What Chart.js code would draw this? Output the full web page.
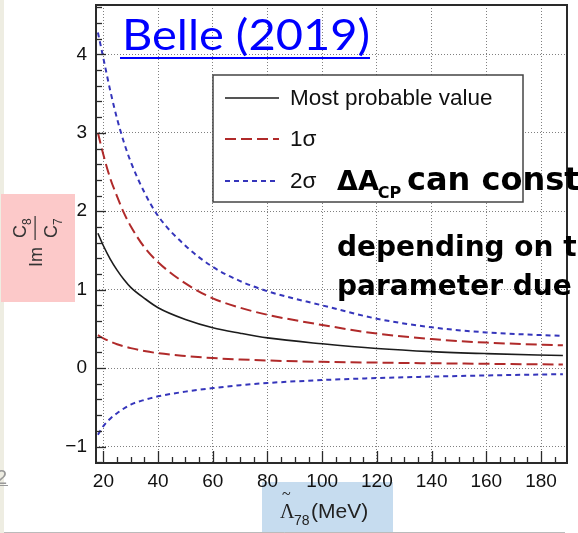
<!DOCTYPE html>
<html>
<head>
<meta charset="utf-8">
<script src="https://cdn.jsdelivr.net/npm/chart.js@4/dist/chart.umd.min.js"></script>
<style>
  html, body { margin: 0; padding: 0; background: #fff; overflow: hidden; }
  canvas { display: block; }
</style>
</head>
<body>
<canvas id="chart" width="578" height="533"></canvas>
<script>
// Lambda_78 (MeV) sample points
const lambdaVals = [18, 20, 22.5, 25, 27.5, 30, 35, 40, 50, 60, 70, 80, 100, 120, 140, 160, 188];
const mostProbable = [1.72, 1.56, 1.39, 1.25, 1.13, 1.03, 0.89, 0.77, 0.62, 0.515, 0.445, 0.385, 0.31, 0.25, 0.21, 0.185, 0.16];
const oneSigmaUp = [3.0, 2.72, 2.42, 2.19, 1.98, 1.81, 1.54, 1.35, 1.08, 0.89, 0.77, 0.68, 0.55, 0.44, 0.37, 0.325, 0.29];
const oneSigmaLow = [0.42, 0.38, 0.34, 0.305, 0.278, 0.255, 0.218, 0.19, 0.155, 0.128, 0.11, 0.097, 0.08, 0.07, 0.062, 0.055, 0.045];
const twoSigmaUp = [4.28, 3.95, 3.54, 3.18, 2.88, 2.63, 2.24, 1.94, 1.56, 1.29, 1.11, 0.98, 0.80, 0.63, 0.52, 0.455, 0.41];
const twoSigmaLow = [-0.85, -0.74, -0.645, -0.575, -0.515, -0.465, -0.405, -0.36, -0.30, -0.255, -0.218, -0.19, -0.152, -0.127, -0.108, -0.094, -0.077];

const xTicks = [20, 40, 60, 80, 100, 120, 140, 160, 180];
const yTicks = [-1, 0, 1, 2, 3, 4];
const legendLabels = ["Most probable value", "1\u03c3", "2\u03c3"];

const BLACK = "#1c1c1c";
const RED = "#b02a2a";
const BLUE = "#3535bb";
const RED_DASH = [11, 5];
const BLUE_DASH = [5, 4];

function pts(ys) {
  return lambdaVals.map((x, i) => ({ x: x, y: ys[i] }));
}

function line(ctx, x1, y1, x2, y2) {
  ctx.beginPath();
  ctx.moveTo(x1, y1);
  ctx.lineTo(x2, y2);
  ctx.stroke();
}

// draw text stretched/squeezed to a given width
function fitText(ctx, text, x, y, width) {
  const w = ctx.measureText(text).width;
  ctx.save();
  ctx.translate(x, y);
  ctx.scale(width / w, 1);
  ctx.fillText(text, 0, 0);
  ctx.restore();
}

const rootStyle = {
  id: "rootStyle",
  beforeDraw(chart) {
    const ctx = chart.ctx;
    ctx.save();
    ctx.fillStyle = "#fff";
    ctx.fillRect(0, 0, chart.width, chart.height);
    ctx.fillStyle = "#eeede2";
    ctx.fillRect(0, 0, 4, chart.height);
    // highlight boxes behind axis titles
    ctx.fillStyle = "#fcc9c9";
    ctx.fillRect(1, 194, 74, 108);
    ctx.fillStyle = "#c6dcef";
    ctx.fillRect(262, 482, 131, 51);
    ctx.strokeStyle = "#bbb";
    ctx.lineWidth = 1;
    line(ctx, 4, 532.5, 565, 532.5);
    ctx.restore();
  },
  afterDatasetsDraw(chart) {
    const ctx = chart.ctx;
    const xs = chart.scales.x;
    const ys = chart.scales.y;
    const { left, right, top, bottom } = chart.chartArea;
    ctx.save();

    // frame
    ctx.strokeStyle = "#2a2a2a";
    ctx.lineWidth = 2;
    ctx.strokeRect(left, top, right - left, bottom - top);

    // ROOT style inward ticks
    ctx.lineWidth = 1.3;
    for (let v = 20; v <= xs.max; v += 5) {
      const px = Math.round(xs.getPixelForValue(v)) + 0.5;
      line(ctx, px, bottom, px, bottom - (v % 20 === 0 ? 12 : 6));
    }
    for (let k = Math.ceil(ys.min * 5); k <= ys.max * 5; k++) {
      const py = Math.round(ys.getPixelForValue(k / 5)) + 0.5;
      line(ctx, left, py, left + (k % 5 === 0 ? 10 : 6), py);
    }

    // legend box
    const lx = 213, ly = 75, lw = 310, lh = 127;
    ctx.fillStyle = "#fff";
    ctx.fillRect(lx, ly, lw, lh);
    ctx.strokeStyle = "#444";
    ctx.lineWidth = 1.5;
    ctx.strokeRect(lx, ly, lw, lh);
    const rows = [98, 139, 181];
    const styles = [[BLACK, [], 1.6], [RED, RED_DASH, 2], [BLUE, BLUE_DASH, 2]];
    ctx.font = "22.5px 'Liberation Sans', Arial, sans-serif";
    ctx.textBaseline = "middle";
    ctx.textAlign = "left";
    rows.forEach((ry, i) => {
      ctx.strokeStyle = styles[i][0];
      ctx.setLineDash(styles[i][1]);
      ctx.lineWidth = styles[i][2];
      line(ctx, 225, ry, 279, ry);
      ctx.setLineDash([]);
      ctx.fillStyle = "#111";
      ctx.fillText(legendLabels[i], 290, ry + 1);
    });

    // title
    ctx.fillStyle = "#0000ff";
    ctx.font = "42px Lato, 'Open Sans', sans-serif";
    ctx.textBaseline = "alphabetic";
    fitText(ctx, "Belle (2019)", 122, 50, 248);
    ctx.fillRect(120, 57, 250, 2);

    // overlaid slide text
    ctx.fillStyle = "#000";
    ctx.font = "bold 27px 'DejaVu Sans', sans-serif";
    ctx.fillText("\u0394A", 337, 190);
    const subX = 337 + ctx.measureText("\u0394A").width - 1;
    ctx.font = "bold 16px 'DejaVu Sans', sans-serif";
    ctx.fillText("CP", subX, 198);
    ctx.font = "bold 32px 'DejaVu Sans', sans-serif";
    ctx.fillText("can constrain", 407, 190);
    ctx.font = "bold 28px 'DejaVu Sans', sans-serif";
    ctx.fillText("depending on the", 337, 256);
    ctx.fillText("parameter due to", 337, 295);

    // y title: Im C8/C7, rotated
    ctx.save();
    ctx.translate(35, 267);
    ctx.rotate(-Math.PI / 2);
    ctx.fillStyle = "#333";
    ctx.font = "18px 'Liberation Sans', Arial, sans-serif";
    ctx.fillText("Im", 0, 7);
    ctx.fillText("C", 29, -9);
    ctx.fillText("C", 29, 22);
    ctx.font = "12px 'Liberation Sans', Arial, sans-serif";
    ctx.fillText("8", 42, -4);
    ctx.fillText("7", 42, 27);
    ctx.fillRect(27, -0.5, 24, 1.2);
    ctx.restore();

    // x title: Lambda~_78 (MeV)
    ctx.fillStyle = "#222";
    ctx.font = "20px 'Liberation Serif', 'Times New Roman', serif";
    ctx.fillText("\u039b", 280, 518);
    ctx.font = "16px 'Liberation Serif', serif";
    ctx.fillText("~", 282, 499);
    ctx.font = "14px 'Liberation Sans', Arial, sans-serif";
    ctx.fillText("78", 294, 525);
    ctx.font = "21px 'Liberation Sans', Arial, sans-serif";
    ctx.fillText("(MeV)", 311, 518);

    // slide page number fragment
    ctx.fillStyle = "#999";
    ctx.font = "20px 'Liberation Sans', Arial, sans-serif";
    ctx.fillText("2", -4, 484);
    ctx.fillRect(0, 485, 8, 1);

    ctx.restore();
  }
};

const tickFont = { family: "'Liberation Sans', Arial, sans-serif", size: 19 };

new Chart(document.getElementById("chart"), {
  type: "line",
  data: {
    datasets: [
      { label: legendLabels[0], data: pts(mostProbable), borderColor: BLACK, borderWidth: 1.6 },
      { label: legendLabels[1], data: pts(oneSigmaUp), borderColor: RED, borderWidth: 2, borderDash: RED_DASH },
      { label: legendLabels[1], data: pts(oneSigmaLow), borderColor: RED, borderWidth: 2, borderDash: RED_DASH },
      { label: legendLabels[2], data: pts(twoSigmaUp), borderColor: BLUE, borderWidth: 2, borderDash: BLUE_DASH },
      { label: legendLabels[2], data: pts(twoSigmaLow), borderColor: BLUE, borderWidth: 2, borderDash: BLUE_DASH }
    ]
  },
  options: {
    responsive: false,
    animation: false,
    devicePixelRatio: 1,
    layout: { padding: { left: 0, top: 5, right: 11, bottom: 0 } },
    elements: {
      point: { radius: 0 },
      line: { cubicInterpolationMode: "monotone", fill: false }
    },
    plugins: { legend: { display: false }, tooltip: { enabled: false } },
    scales: {
      x: {
        type: "linear",
        min: 17.3,
        max: 189.5,
        afterFit: (scale) => {
          scale.height = 70;
          scale.paddingLeft = 0;
          scale.paddingRight = 0;
        },
        afterBuildTicks: (scale) => { scale.ticks = xTicks.map((v) => ({ value: v })); },
        ticks: { font: tickFont, color: "#111", padding: 7, maxRotation: 0 },
        grid: { color: "#808080", lineWidth: 1, drawTicks: false },
        border: { display: false, dash: [1, 2] }
      },
      y: {
        min: -1.21,
        max: 4.63,
        afterFit: (scale) => {
          scale.width = 96;
          scale.paddingTop = 0;
          scale.paddingBottom = 0;
        },
        afterBuildTicks: (scale) => { scale.ticks = yTicks.map((v) => ({ value: v })); },
        ticks: {
          font: tickFont,
          color: "#111",
          padding: 9,
          callback: (v) => (v < 0 ? "\u2212" + Math.abs(v) : String(v))
        },
        grid: { color: "#808080", lineWidth: 1, drawTicks: false },
        border: { display: false, dash: [1, 2] }
      }
    }
  },
  plugins: [rootStyle]
});
</script>
</body>
</html>
